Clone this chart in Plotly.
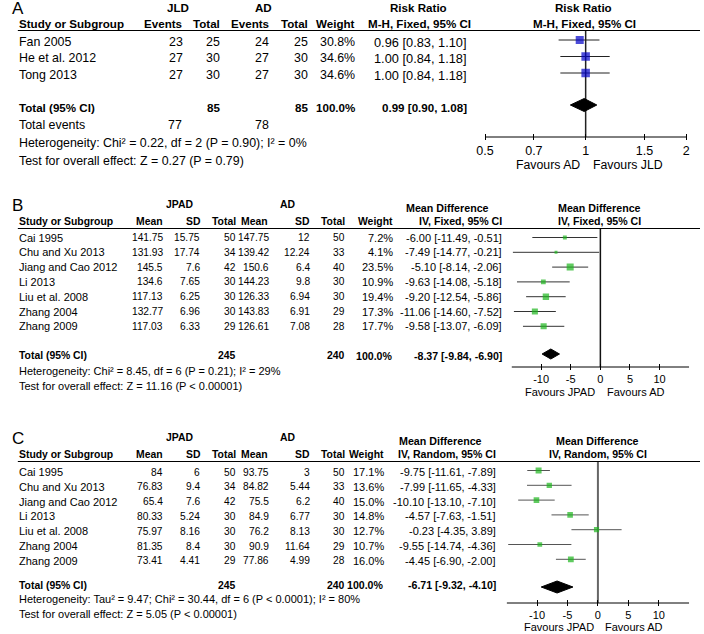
import math
import plotly.graph_objects as go

# ---------------- DATA ----------------
a_studies = ["Fan 2005", "He et al. 2012", "Tong 2013"]
a_jld_events = [23, 27, 27]
a_jld_total = [25, 30, 30]
a_ad_events = [24, 27, 27]
a_ad_total = [25, 30, 30]
a_weight = [30.8, 34.6, 34.6]
a_rr = [0.96, 1.00, 1.00]
a_lo = [0.83, 0.84, 0.84]
a_hi = [1.10, 1.18, 1.18]
a_sum_totals = [85, 85]
a_sum_events = [77, 78]
a_sum_est = [0.99, 0.90, 1.08]
a_het = "Heterogeneity: Chi² = 0.22, df = 2 (P = 0.90); I² = 0%"
a_test = "Test for overall effect: Z = 0.27 (P = 0.79)"
a_ticks = [0.5, 0.7, 1, 1.5, 2]
a_ticktext = ["0.5", "0.7", "1", "1.5", "2"]

bc_studies = ["Cai 1995", "Chu and Xu 2013", "Jiang and Cao 2012", "Li 2013",
              "Liu et al. 2008", "Zhang 2004", "Zhang 2009"]

b_jpad_mean = [141.75, 131.93, 145.5, 134.6, 117.13, 132.77, 117.03]
b_jpad_sd = [15.75, 17.74, 7.6, 7.65, 6.25, 6.96, 6.33]
b_jpad_n = [50, 34, 42, 30, 30, 30, 29]
b_ad_mean = [147.75, 139.42, 150.6, 144.23, 126.33, 143.83, 126.61]
b_ad_sd = [12, 12.24, 6.4, 9.8, 6.94, 6.91, 7.08]
b_ad_n = [50, 33, 40, 30, 30, 29, 28]
b_weight = [7.2, 4.1, 23.5, 10.9, 19.4, 17.3, 17.7]
b_md = [-6.00, -7.49, -5.10, -9.63, -9.20, -11.06, -9.58]
b_lo = [-11.49, -14.77, -8.14, -14.08, -12.54, -14.60, -13.07]
b_hi = [-0.51, -0.21, -2.06, -5.18, -5.86, -7.52, -6.09]
b_sum_totals = [245, 240]
b_sum_est = [-8.37, -9.84, -6.90]
b_het = "Heterogeneity: Chi² = 8.45, df = 6 (P = 0.21); I² = 29%"
b_test = "Test for overall effect: Z = 11.16 (P &lt; 0.00001)"

c_jpad_mean = [84, 76.83, 65.4, 80.33, 75.97, 81.35, 73.41]
c_jpad_sd = [6, 9.4, 7.6, 5.24, 8.16, 8.4, 4.41]
c_jpad_n = [50, 34, 42, 30, 30, 30, 29]
c_ad_mean = [93.75, 84.82, 75.5, 84.9, 76.2, 90.9, 77.86]
c_ad_sd = [3, 5.44, 6.2, 6.77, 8.13, 11.64, 4.99]
c_ad_n = [50, 33, 40, 30, 30, 29, 28]
c_weight = [17.1, 13.6, 15.0, 14.8, 12.7, 10.7, 16.0]
c_md = [-9.75, -7.99, -10.10, -4.57, -0.23, -9.55, -4.45]
c_lo = [-11.61, -11.65, -13.10, -7.63, -4.35, -14.74, -6.90]
c_hi = [-7.89, -4.33, -7.10, -1.51, 3.89, -4.36, -2.00]
c_sum_totals = [245, 240]
c_sum_est = [-6.71, -9.32, -4.10]
c_het = "Heterogeneity: Tau² = 9.47; Chi² = 30.44, df = 6 (P &lt; 0.0001); I² = 80%"
c_test = "Test for overall effect: Z = 5.05 (P &lt; 0.00001)"

md_ticks = [-10, -5, 0, 5, 10]
md_ticktext = ["-10", "-5", "0", "5", "10"]

# ---------------- LAYOUT HELPERS ----------------
W, H = 704, 634
FONT = "Liberation Sans"
ann = []
shapes = []


def px(x):
    return x / W


def py(y):
    return 1 - y / H


def txt(x, y, s, anchor="left", bold=False, size=12):
    if bold:
        s = "<b>" + s + "</b>"
    ann.append(dict(x=px(x), y=py(y), xref="paper", yref="paper", text=s,
                    showarrow=False, xanchor=anchor, yanchor="middle",
                    borderpad=0, font=dict(family=FONT, size=size, color="black")))


def hline(y, x0=9, x1=704):
    shapes.append(dict(type="line", xref="paper", yref="paper",
                       x0=px(x0), x1=px(x1), y0=py(y), y1=py(y),
                       line=dict(color="black", width=1)))


def fmt(v):
    return str(v)


fig = go.Figure()


def forest(xa, rows, est, lo, hi, weights, color, ci_color, tot_y, tot, dia_h,
           top_y, axis_y, rng, zero, zero_color, zero_w):
    fig.add_trace(go.Scatter(x=[zero, zero], y=[top_y, axis_y], mode="lines",
                             line=dict(color=zero_color, width=zero_w),
                             xaxis=xa, yaxis="y", hoverinfo="skip"))
    fig.add_trace(go.Scatter(x=[rng[0], rng[1]], y=[axis_y, axis_y], mode="lines",
                             line=dict(color="black", width=1),
                             xaxis=xa, yaxis="y", hoverinfo="skip"))
    xs, ys = [], []
    for r, l, h in zip(rows, lo, hi):
        xs += [l, h, None]
        ys += [r, r, None]
    fig.add_trace(go.Scatter(x=xs, y=ys, mode="lines",
                             line=dict(color=ci_color, width=1),
                             xaxis=xa, yaxis="y", hoverinfo="skip"))
    fig.add_trace(go.Scatter(x=est, y=rows, mode="markers",
                             marker=dict(symbol="square", color=color,
                                         size=[1.45 * math.sqrt(w) for w in weights],
                                         line=dict(width=0)),
                             xaxis=xa, yaxis="y", hoverinfo="skip"))
    e, l, h = tot
    fig.add_trace(go.Scatter(x=[l, e, h, e, l], y=[tot_y, tot_y - dia_h / 2, tot_y,
                                                   tot_y + dia_h / 2, tot_y],
                             mode="lines", fill="toself", fillcolor="black",
                             line=dict(color="black", width=1),
                             xaxis=xa, yaxis="y", hoverinfo="skip"))


# ---------------- PANEL A ----------------
FA, FAB = 12.4, 11.6
txt(2, 8, "A", size=17)
txt(172, 7.5, "JLD", "center", True, FAB)
txt(259, 7.5, "AD", "center", True, FAB)
txt(417, 7.5, "Risk Ratio", "center", True, FAB)
txt(585, 7.5, "Risk Ratio", "center", True, FAB)
txt(9, 24, "Study or Subgroup", bold=True, size=FAB)
for x, s in [(177, "Events"), (216, "Total"), (266, "Events"), (306, "Total"), (354, "Weight")]:
    txt(x, 24, s, "right", True, FAB)
txt(418, 24, "M-H, Fixed, 95% CI", "center", True, FAB)
txt(586, 24, "M-H, Fixed, 95% CI", "center", True, FAB)
hline(30.5)

a_rows = [40 + 16.5 * i for i in range(len(a_studies))]
for i, r in enumerate(a_rows):
    ty = r + 2
    txt(9, ty, a_studies[i], size=FA)
    txt(178, ty, fmt(a_jld_events[i]), "right", size=FA)
    txt(216, ty, fmt(a_jld_total[i]), "right", size=FA)
    txt(266, ty, fmt(a_ad_events[i]), "right", size=FA)
    txt(306, ty, fmt(a_ad_total[i]), "right", size=FA)
    txt(354, ty, f"{a_weight[i]:.1f}%", "right", size=FA)
    txt(468, ty, f"{a_rr[i]:.2f} [{a_lo[i]:.2f}, {a_hi[i]:.2f}]", "right", size=12.8)
txt(9, 107, "Total (95% CI)", bold=True, size=FAB)
txt(216, 107, fmt(a_sum_totals[0]), "right", True, FAB)
txt(306, 107, fmt(a_sum_totals[1]), "right", True, FAB)
txt(354, 107, "100.0%", "right", True, FAB)
e, l, h = a_sum_est
txt(468, 107, f"{e:.2f} [{l:.2f}, {h:.2f}]", "right", True, FAB)
txt(9, 125, "Total events", size=FA)
txt(177, 125, fmt(a_sum_events[0]), "right", size=FA)
txt(266, 125, fmt(a_sum_events[1]), "right", size=FA)
txt(9, 143, a_het, size=FA)
txt(9, 161, a_test, size=FA)
txt(583, 165, "Favours AD", "right", size=12.3)
txt(594, 165, "Favours JLD", "left", size=12.3)

forest("x", a_rows, a_rr, a_lo, a_hi, a_weight, "#0000C8", "#222222", 105,
       a_sum_est, 13, 30.5, 137, [0.5, 2], 1, "#222222", 1.5)

# ---------------- PANELS B / C ----------------
FB, FBB, FNUM = 11, 10.4, 10.2


def md_panel(letter, y0, sub_label, est, lo, hi, w, jm, jsd, jn, am, asd, an_,
             totals, sum_est, het, test, w_right, ci_right, hdr_center, plot_center,
             row0, text_dy, tot_text_y, het_y, fav_y, fav_left_right, fav_right_left):
    txt(2, y0 + 1, letter, size=17)
    txt(174, y0, "JPAD", "center", True, FBB)
    txt(284, y0, "AD", "center", True, FBB)
    txt(hdr_center, y0 + 4, "Mean Difference", "center", True, 10.7)
    txt(plot_center, y0 + 4, "Mean Difference", "center", True, 10.7)
    hy = y0 + 17
    txt(9, hy, "Study or Subgroup", bold=True, size=FBB)
    for x, s in [(158, "Mean"), (197, "SD"), (232, "Total"), (265, "Mean"),
                 (308, "SD"), (343, "Total"), (w_right, "Weight")]:
        txt(x, hy, s, "right", True, FBB)
    txt(ci_right, hy, sub_label, "right", True, 10.6)
    txt(plot_center, hy, sub_label, "center", True, 10.6)
    hline(y0 + 24.5)
    rows = [row0 + 14.8 * i for i in range(len(bc_studies))]
    for i, r in enumerate(rows):
        ty = r + text_dy
        txt(9, ty, bc_studies[i], size=FB)
        txt(158, ty, fmt(jm[i]), "right", size=FNUM)
        txt(196, ty, fmt(jsd[i]), "right", size=FNUM)
        txt(232, ty, fmt(jn[i]), "right", size=FNUM)
        txt(266, ty, fmt(am[i]), "right", size=FNUM)
        txt(308, ty, fmt(asd[i]), "right", size=FNUM)
        txt(343, ty, fmt(an_[i]), "right", size=FNUM)
        txt(w_right, ty, f"{w[i]:.1f}%", "right", size=FB)
        txt(ci_right, ty, f"{est[i]:.2f} [{lo[i]:.2f}, {hi[i]:.2f}]", "right", size=FB)
    txt(9, tot_text_y, "Total (95% CI)", bold=True, size=FBB)
    txt(232, tot_text_y, fmt(totals[0]), "right", True, FBB)
    txt(343, tot_text_y, fmt(totals[1]), "right", True, FBB)
    txt(w_right, tot_text_y, "100.0%", "right", True, 10.6)
    e, l, h = sum_est
    txt(ci_right, tot_text_y, f"{e:.2f} [{l:.2f}, {h:.2f}]", "right", True, 10.6)
    txt(9, het_y, het, size=FB)
    txt(9, het_y + 14.5, test, size=FB)
    txt(fav_left_right, fav_y, "Favours JPAD", "right", size=11)
    txt(fav_right_left, fav_y, "Favours AD", "left", size=11)
    return rows


b_rows = md_panel("B", 204, "IV, Fixed, 95% CI", b_md, b_lo, b_hi, b_weight,
                  b_jpad_mean, b_jpad_sd, b_jpad_n, b_ad_mean, b_ad_sd, b_ad_n,
                  b_sum_totals, b_sum_est, b_het, b_test, 392, 503, 447, 602,
                  237.5, 0, 356, 371, 392, 598, 608)
forest("x2", b_rows, b_md, b_lo, b_hi, b_weight, "#1DB51D", "#333333", 354,
       b_sum_est, 10, 228.5, 367, [-15, 15], 0, "#111111", 1.5)

c_rows = md_panel("C", 437, "IV, Random, 95% CI", c_md, c_lo, c_hi, c_weight,
                  c_jpad_mean, c_jpad_sd, c_jpad_n, c_ad_mean, c_ad_sd, c_ad_n,
                  c_sum_totals, c_sum_est, c_het, c_test, 383, 497, 440, 600,
                  470.5, 1.5, 585, 599, 627, 597, 606)
forest("x3", c_rows, c_md, c_lo, c_hi, c_weight, "#1DB51D", "#555555", 587,
       c_sum_est, 12, 461.5, 603, [-15, 15], 0, "#666666", 2)


def xaxis_cfg(d0, d1, axis_y, rng, tickvals, ticktext, fsize, log=False):
    return dict(domain=[px(d0), px(d1)], anchor="free", position=py(axis_y - 4),
                range=[math.log10(rng[0]), math.log10(rng[1])] if log else rng,
                type="log" if log else "linear",
                tickmode="array", tickvals=tickvals, ticktext=ticktext,
                ticks="outside", ticklen=6, tickwidth=1, tickcolor="black",
                showline=False, showgrid=False, zeroline=False, fixedrange=True,
                tickfont=dict(family=FONT, size=fsize, color="black"))


fig.update_layout(
    width=W, height=H, margin=dict(l=0, r=0, t=0, b=0),
    paper_bgcolor="white", plot_bgcolor="rgba(0,0,0,0)", showlegend=False,
    xaxis=xaxis_cfg(485, 690, 137, [0.5, 2], a_ticks, a_ticktext, 12.5, log=True),
    xaxis2=xaxis_cfg(512, 693, 367, [-15, 15], md_ticks, md_ticktext, 11),
    xaxis3=xaxis_cfg(507, 693, 603, [-15, 15], md_ticks, md_ticktext, 11),
    yaxis=dict(domain=[0, 1], range=[H, 0], visible=False, fixedrange=True),
    annotations=ann, shapes=shapes,
)

fig.write_html("out.html", config={"displayModeBar": False},
               post_script="document.body.style.margin='0';")
